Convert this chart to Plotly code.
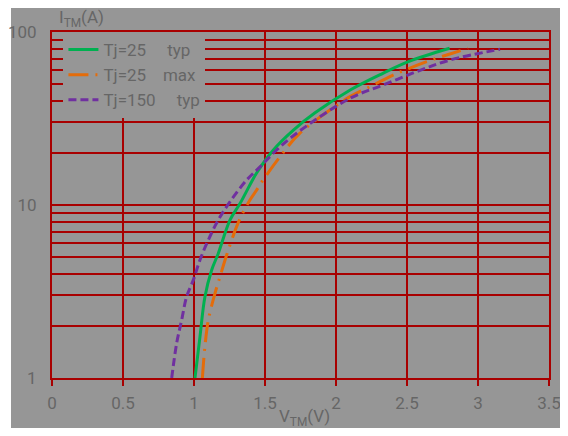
import plotly.graph_objects as go

# Data
v_typ25 = [1.007, 1.042, 1.077, 1.124, 1.171, 1.254, 1.324, 1.441, 1.559, 1.70, 1.85, 2.10, 2.33, 2.51, 2.80]
i_typ25 = [1.0, 1.73, 2.95, 4.2, 5.25, 8.2, 10.2, 15.3, 20.8, 27.1, 34.0, 46.2, 57.7, 67.4, 80.5]

v_max25 = [1.059, 1.077, 1.101, 1.148, 1.183, 1.23, 1.30, 1.336, 1.394, 1.441, 1.488, 1.606, 1.746, 2.099, 2.239, 2.38, 2.498, 2.639, 2.78, 2.93]
i_max25 = [1.0, 1.52, 2.16, 3.09, 3.85, 5.14, 7.5, 8.75, 10.7, 12.2, 14.0, 19.0, 26.0, 42.3, 48.3, 55.2, 60.8, 67.4, 73.6, 80.5]

v_typ150 = [0.843, 0.878, 0.913, 0.948, 0.995, 1.042, 1.101, 1.171, 1.254, 1.371, 1.465, 1.582, 1.723, 2.099, 2.333, 2.568, 2.803, 3.155]
i_typ150 = [1.0, 1.59, 2.16, 2.95, 3.68, 4.81, 6.28, 8.19, 10.45, 13.95, 16.6, 20.8, 26.0, 41.4, 49.4, 59.0, 68.9, 79.4]

names = ["Tj=25\u00a0\u00a0\u00a0\u00a0\u00a0typ", "Tj=25\u00a0\u00a0\u00a0\u00a0max", "Tj=150\u00a0\u00a0\u00a0\u00a0\u00a0typ"]

x_ticks = [0, 0.5, 1, 1.5, 2, 2.5, 3, 3.5]
x_ticklabels = ["0", "0.5", "1", "1.5", "2", "2.5", "3", "3.5"]
y_ticks = [1, 10, 100]
y_ticklabels = ["1", "10", "100"]
y_minor = [2, 3, 4, 5, 6, 7, 8, 9, 20, 30, 40, 50, 60, 70, 80, 90]

GRAY = "#969696"
GRID = "#a80000"
TXT = "#666666"
FONT = "Roboto"

fig = go.Figure()
fig.add_trace(go.Scatter(x=v_typ25, y=i_typ25, mode="lines", name=names[0],
                         line=dict(color="#00b050", width=3, shape="spline")))
fig.add_trace(go.Scatter(x=v_max25, y=i_max25, mode="lines", name=names[1],
                         line=dict(color="#e46c0a", width=3, dash="20px,7px,2px,7px", shape="spline")))
fig.add_trace(go.Scatter(x=v_typ150, y=i_typ150, mode="lines", name=names[2],
                         line=dict(color="#7030a0", width=3, dash="8px,4px", shape="spline")))

# gray backdrop
fig.add_shape(type="rect", xref="paper", yref="paper",
              x0=-0.0825, x1=1.030, y0=-0.20, y1=1.10,
              fillcolor=GRAY, line=dict(width=0), layer="below")

fig.update_layout(
    width=552, height=420,
    margin=dict(l=44, r=11, t=24, b=50),
    paper_bgcolor="white",
    plot_bgcolor=GRAY,
    font=dict(family=FONT, size=17, color=TXT),
    showlegend=True,
    legend=dict(x=0.023, y=1.0, xanchor="left", yanchor="top",
                bgcolor=GRAY, borderwidth=0,
                font=dict(family=FONT, size=17, color=TXT),
                tracegroupgap=0, itemwidth=30),
    xaxis=dict(range=[0, 3.5], tickvals=x_ticks, ticktext=x_ticklabels,
               automargin=False, ticklabeloverflow="allow",
               showgrid=True, gridcolor=GRID, gridwidth=1.5,
               showline=True, linecolor=GRID, linewidth=2, mirror=True,
               ticks="outside", ticklen=6, tickcolor=GRID, tickwidth=1.5,
               zeroline=False, ticklabelstandoff=3, tickfont=dict(size=17, color=TXT)),
    yaxis=dict(type="log", range=[0, 2], tickvals=y_ticks, ticktext=y_ticklabels,
               automargin=False, ticklabeloverflow="allow",
               showgrid=True, gridcolor=GRID, gridwidth=1.5,
               showline=True, linecolor=GRID, linewidth=2, mirror=True,
               ticks="", zeroline=False, ticklabelstandoff=10,
               tickfont=dict(size=17, color=TXT),
               minor=dict(tickvals=y_minor, showgrid=True, gridcolor=GRID, gridwidth=1.5,
                          ticks="inside", ticklen=6, tickcolor=GRID, tickwidth=2)),
    annotations=[
        dict(text="I<sub>TM</sub>(A)", xref="paper", yref="paper",
             x=(57 - 52) / 497, y=(378 - 19) / 346, xanchor="left", yanchor="middle",
             showarrow=False, font=dict(family=FONT, size=17, color=TXT)),
        dict(text="V<sub>TM</sub>(V)", xref="paper", yref="paper",
             x=(304 - 52) / 497, y=(378 - 417) / 346, xanchor="center", yanchor="middle",
             showarrow=False, font=dict(family=FONT, size=17, color=TXT)),
    ],
)

fig.write_html("out.html")
